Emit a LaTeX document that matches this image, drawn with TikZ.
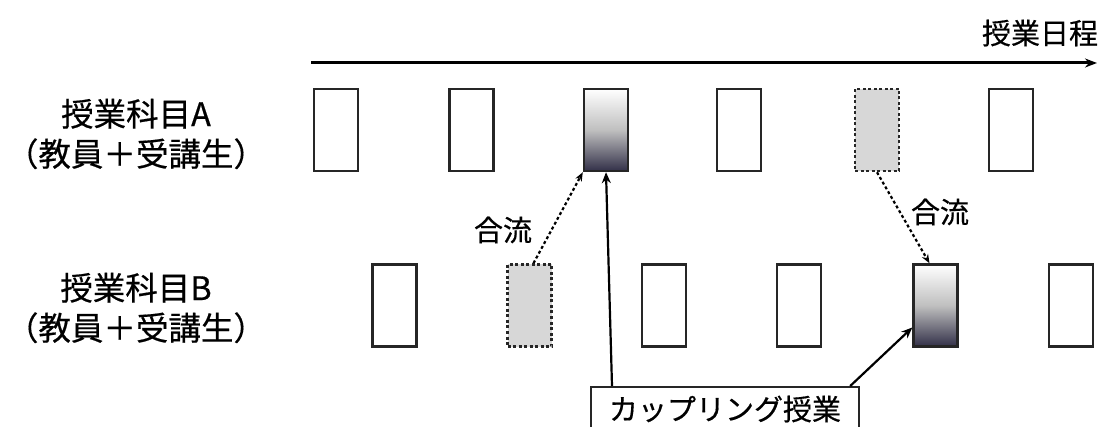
\documentclass[tikz,border=0pt]{standalone}
\usepackage{fontspec}
\setmainfont{Noto Sans CJK JP}[FakeBold=0.5]
\usetikzlibrary{arrows.meta}
\definecolor{navy}{RGB}{50,48,72}
\definecolor{lgray}{RGB}{215,215,215}
\tikzset{
  slot/.style={draw=black!85, line width=2.4pt, minimum width=44pt, minimum height=82pt, inner sep=0pt},
  coupled/.style={slot, top color=white, bottom color=navy, middle color=black!25},
  merged/.style={slot, fill=lgray, line width=2.6pt, dash pattern=on 3pt off 2.5pt},
  lbl/.style={font=\fontsize{32.5pt}{40pt}\selectfont, align=center, inner sep=0pt},
  txt/.style={font=\fontsize{29pt}{32pt}\selectfont, inner sep=0pt},
  flow/.style={line width=2.2pt, dash pattern=on 3pt off 2.5pt, -{Stealth[length=9pt,width=7pt]}},
  point/.style={line width=2.2pt, -{Stealth[length=11pt,width=9pt]}}
}
\begin{document}
\begin{tikzpicture}[x=1pt,y=-1pt]
\useasboundingbox (0,0) rectangle (1102,427);
\clip (0,0) rectangle (1102,427);
% timeline
\coordinate (t0) at (311,63);
\coordinate (t1) at (1097,63);
\draw[line width=3pt, -{Stealth[length=12pt,width=9pt]}] (t0) -- (t1);
\node[txt] (sched) at (1040,33) {授業日程};
% labels
\node[lbl] (labA) at (136,134) {授業科目A\\（教員＋受講生）};
\node[lbl] (labB) at (136,308) {授業科目B\\（教員＋受講生）};
% row A
\node[slot] (a1) at (336,130) {};
\node[slot] (a2) at (471.5,130) {};
\node[coupled] (a3) at (606,130) {};
\node[slot] (a4) at (739,130) {};
\node[merged] (a5) at (877,130) {};
\node[slot] (a6) at (1011,130) {};
% row B
\node[slot] (b1) at (394.5,305.5) {};
\node[merged] (b2) at (529.5,305.5) {};
\node[slot] (b3) at (664,305.5) {};
\node[slot] (b4) at (799,305.5) {};
\node[coupled] (b5) at (935.5,305.5) {};
\node[slot] (b6) at (1071,305.5) {};
% merge arrows
\draw[flow] ([xshift=4pt]b2.north) -- (a3.south west);
\draw[flow] (a5.south) -- ([xshift=-6pt]b5.north);
\node[txt] (m1) at (503,230) {合流};
\node[txt] (m2) at (940,212) {合流};
% callout
\node[draw=black!85, line width=2.2pt, minimum width=268pt, minimum height=60pt, anchor=north west, inner sep=0pt] (call) at (590,386) {};
\node[txt] (calltxt) at (725,409) {カップリング授業};
\draw[point] ([xshift=22pt]call.north west) -- (a3.south);
\draw[point] ([xshift=-10pt]call.north east) -- ([yshift=-22pt]b5.west);
\end{tikzpicture}
\end{document}
